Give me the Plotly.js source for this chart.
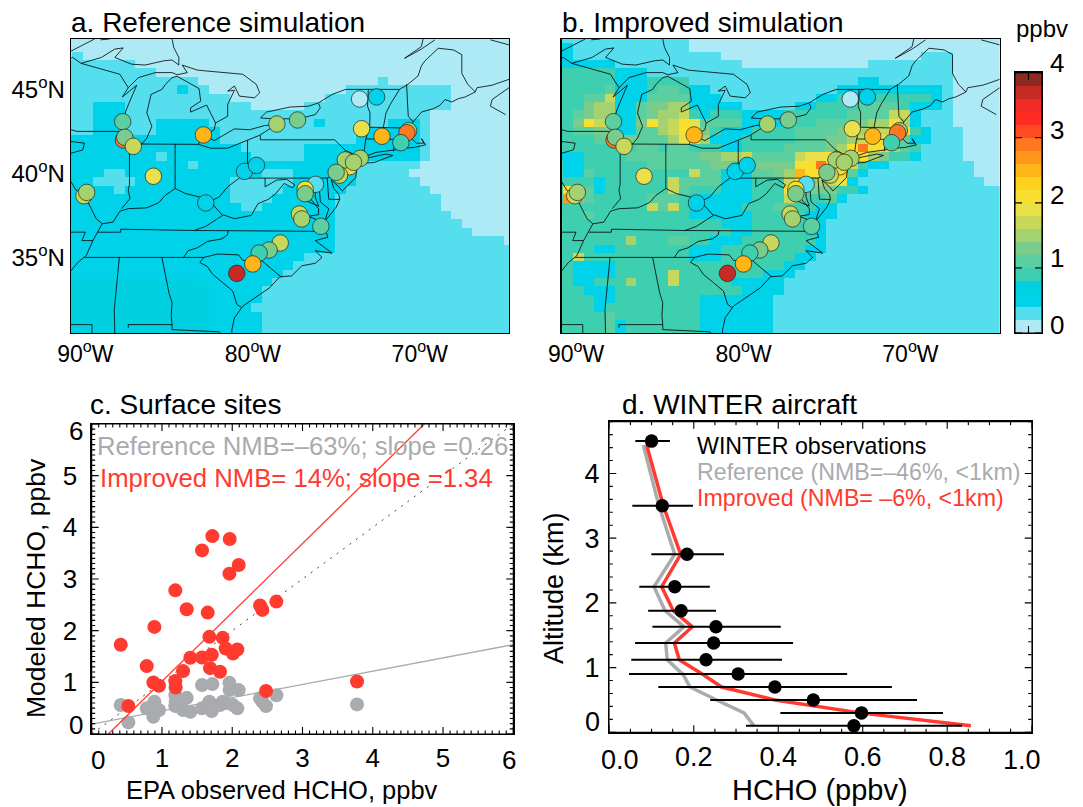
<!DOCTYPE html>
<html><head><meta charset="utf-8">
<script src="https://cdn.plot.ly/plotly-3.0.1.min.js"></script>
<style>html,body{margin:0;padding:0;background:#fff}</style></head>
<body><div id="chart" style="width:1083px;height:807px"></div>
<script>
/* ---- grid (cell centres, degrees) ---- */
const gridLon = [-91.25,-90.625,-90,-89.375,-88.75,-88.125,-87.5,-86.875,-86.25,-85.625,-85,-84.375,-83.75,-83.125,-82.5,-81.875,-81.25,-80.625,-80,-79.375,-78.75,-78.125,-77.5,-76.875,-76.25,-75.625,-75,-74.375,-73.75,-73.125,-72.5,-71.875,-71.25,-70.625,-70,-69.375,-68.75,-68.125,-67.5,-66.875,-66.25,-65.625,-65];
const gridLat = [48,47.5,47,46.5,46,45.5,45,44.5,44,43.5,43,42.5,42,41.5,41,40.5,40,39.5,39,38.5,38,37.5,37,36.5,36,35.5,35,34.5,34,33.5,33,32.5,32,31.5,31,30.5];
/* bin index of each cell (0-9,a-j; one bin = 0.2 ppbv), north to south, spaces only group digits */
const refBins = [
"0000000000000 000000000000000000000000000000",
"0000000000000 000000000000000000000000000000",
"01 00000000000000000000000000000000000000000",
"1111111 000000000000000000000000000000000000",
"111111111 0000000000000000000000000000000000",
"1111111111111 00000000000000000 1 000000000000",
"11111111111211 0000000000000 1111111111 000000",
"1111111111111111 000000000 111111111111 000000",
"111 222 111111111111 00000 11111111111111 000000",
"111 222 11111111111111111111111111111 00000000",
"111 222 111 22222 1111111111 2 111111 222 1 00000000",
"111 222 111 222222 11111111111111 22222 1 00000000",
"222222222222222 1111111111111 222222 1 00000000",
"22222222222222222 111111 22222222222 1 00000000",
"222222222 1 22222222 11111 22222222222 1 00000000",
"222222222222 1 222222222222222 111111 000000000",
"2222 11 2222222222222 111 222222 11111 0000000000",
"222 1111 222222222 111111 222222 111111 000000000",
"22222 1 2222222222 11111 222222 11111111 00000000",
"2222222222222222 1111 222222 1111111111 0000000",
"22222222222222222 11 2222222 1111111111 0000000",
"22222222222222222222222222 11111111111 000000",
"22222222222222222222222222 111111111111 00000",
"22222222222222222222222222 1111111111111 0000",
"22222222222222222222222222 1111111111111111 0",
"22222222222222222222222222 11111111111111111",
"22222222222222222222222 11111111111111111111",
"2222222222222222222222 111111111111111111111",
"222222222222222222222 1111111111111111111111",
"2 333333333333 2222222 11111111111111111111111",
"2 3333333333333 22222 111111111111111111111111",
"2 3333333333333 22222 111111111111111111111111",
"2 3333333333333 2222 1111111111111111111111111",
"2 3333333333333 22222 111111111111111111111111",
"2 3333333333333 22222 111111111111111111111111",
"2 3333333333333 22222 111111111111111111111111"];
const impBins = [
"1111111111111 000000000000000000000000000000",
"2211111111111 000000000000000000000000000000",
"22 11111111111111 0000000000000000000 111 00000",
"222222 111111111111 000000000000 11111111 00000",
"444444 222 1111 1111111111111111111111111 00000",
"444444 222 4444 1111111111111111 22 1111111 00000",
"444445 222 4554 22 111111111111 2222222222 1 00000",
"444558 222 5555 2 22 111111111 22 444444444 2 1 00000",
"444677 22 5 6677 22 222 11111 22 444455554 222 1 00000",
"44 5677 22 5 6778 4 2 444 2222 444 4445555 88 2 111 00000",
"446a89 22 6 a 7 8 a 9 5 555 2222 444 555 5677 a 7 2 111 00000",
"445566 22 55 78 aa 6 4 222 444455 5566 7 88 9 a 4 2111 0000",
"444456 66 555 79 a 7 222 4444455 5 6 67 8 9 a 8 5 2 2111 0000",
"444444 4455 455 44 4 22 444 4555 5 6 7 a e aa 7 5 4 1111 0000",
"222 4444555 5555 66 778 5555 8 99 aa g a76 44 2 1111 0000",
"422 444 444 5555 5566 556666 aa e aa 8 4 22 11111111 000",
"422 544 444 4444 8 55 2 22 5567 c a aa b 5 2 1111111111 000",
"44442 4 44444 8 5 555 222 444 8 a 6 7 8 9 2 111111111111 00",
"4a8 5 2 44 4444 8 5 444 222 444 a 9 6 66 4 4 2 1111111111111 0",
"4d6 5 44 444 555 44 2222 244 4 8 5 445 2 111111111111111",
"444444 444 8 5 8 4 222 22 444 55 44 2 2 1111111111111111",
"444 54 44444444 2 22 222 44444 22 2 1111111111111111",
"544444 4444444444 222 44444 22 11111111111111111",
"44444444444444 44422 44444 22 11111111111111111",
"4444444 7 444 55 44 222 444 444 42 11111111111111111",
"444422 4444444 222 4444 4444 22 11111111111111111",
"448 4444 44444 4 22 2 44 444 44 22 111111111111111111",
"44 2222 4444 444 44 44 444 44 22 1111111111111111111",
"44 2222 44444 8 4 4444 444 22 2 11111111111111111111",
"4422 44 4 7 444 8 4 4444 22 22 2 111111111111111111111",
"444222 44444444 4444 22 22 111111111111111111111",
"444422 44444444 2222222 1111111111111111111111",
"4444 2 4 44444444 2222222 1111111111111111111111",
"444445 44444444 2222222 1111111111111111111111",
"444445 2 4444444 2222222 1111111111111111111111",
"444445 2 4444444 2222222 1111111111111111111111"];
const binColors = ["#AEE9F6","#55DEEE","#00D2EA","#00D0E0","#3ECFB0","#5CCFA0","#7ACC8C","#A4D26E","#C8D85A","#E9E04A","#F9E030","#FDD21F","#FFB418","#FF981A","#FF7820","#FF4A24","#FF2C22","#F22A25","#C62A25","#8C2A22"];
/* ---- observation sites ---- */
const siteLon = [-73.87,-72.86,-87.93,-78.78,-77.55,-73.75,-72.54,-70.96,-71.06,-71.42,-83.14,-87.89,-87.81,-87.30,-86.11,-80.70,-79.99,-74.47,-74.72,-73.83,-74.23,-75.06,-75.26,-76.49,-77.10,-77.10,-83.00,-90.23,-90.07,-77.44,-77.30,-76.17,-78.58,-79.24,-79.83,-80.21,-81.16];
const siteLat = [44.43,44.55,43.08,42.94,43.18,42.66,42.21,42.54,42.42,41.83,42.29,41.99,42.15,41.61,39.83,40.12,40.48,40.40,40.80,40.90,40.66,39.90,40.06,39.35,39.05,38.79,38.24,38.67,38.87,37.58,37.29,36.85,35.86,35.44,35.26,34.61,34.05];
const siteVal = [0.1,0.5,1.1,1.5,1.3,1.9,2.5,1.5,2.9,0.9,2.5,2.9,1.3,1.7,1.9,0.5,0.5,2.1,1.5,1.5,1.5,1.7,1.3,0.3,2.1,1.3,0.5,1.7,1.5,1.7,1.5,1.1,1.7,1.3,0.9,2.5,3.7];
/* ---- map outlines: lon,lat,lon,lat ... ---- */
const outlines = [
[-91,47.28,-90,47.8,-89.6,48],
[-91,46.85,-90.9,46.9,-90.4,46.55,-89.2,46.9,-88.4,47.4,-87.9,47.47,-88.4,46.9,-87.4,46.5,-86.6,46.45,-85.5,46.7,-85,46.75,-84.6,46.45,-84.6,46.9,-84.9,47.5,-85,48],
[-89.25,47.95,-88.7,48],
[-90.4,46.55,-88.1,45.9,-87.6,45.1,-87.95,44.55,-87.1,45.25,-87.35,44.6,-87.55,44.2,-87.75,43.7,-87.9,43,-87.8,42.5,-87.55,41.75,-87.3,41.62,-86.8,41.75,-86.5,42.1,-86.2,42.8,-86.5,43.6,-86.25,44.7,-85.6,45,-85.4,45.3,-85,45.7,-84.7,45.78,-83.4,45.05,-83.3,44.3,-83.9,43.9,-83.9,43.65,-82.95,44.07,-82.42,43,-82.5,42.6,-83.1,42.25,-83.45,41.73,-82.7,41.5,-81.7,41.5,-80.5,41.97,-79.8,42.27,-78.9,42.85],
[-87.6,45.1,-87,45.7,-86,46,-85,46,-84.7,45.87,-84.1,46,-84.4,46.45,-83.5,46.15,-83,46.1,-81.7,46,-80.8,45.9,-80,45.3,-79.8,44.8,-80.1,44.5,-81,44.6,-81.3,45.2,-81.7,44.9,-81.3,44.95,-81.7,44.1,-81.7,43.4,-82.42,43],
[-83.1,42.25,-82.5,41.95,-81.3,42.65,-80.4,42.6,-79.5,42.85,-78.9,42.9,-79.05,43.25,-79.75,43.3,-79.4,43.65,-78,43.95,-76.9,44,-76.3,44.2,-75.5,44.7,-74.7,45],
[-79.05,43.25,-77.5,43.25,-76.5,43.5,-76.2,43.9,-76.3,44.15],
[-71.2,46.85,-70.2,47.4,-69.4,47.95],[-71.2,46.85,-70.2,47.55,-70.1,48],
[-74.7,45,-71.5,45,-71,45.3,-70.4,45.8,-70.2,46.4,-69.99,46.7,-69.2,47.45,-68.3,47.35,-67.8,47.07,-67.8,45.95,-67.45,45.3,-67,44.85,-66.9,45.1,-66,45.25,-65,45.6],
[-65,45.1,-66,44.4,-66.1,44,-65.2,43.5],[-66.1,47.95,-65,47.65],
[-67,44.85,-67.6,44.55,-68,44.45,-68.4,44.25,-68.8,44.4,-69.1,44.05,-69.5,43.85,-70.2,43.65,-70.7,43.05,-70.8,42.6,-71,42.3,-70.65,41.95,-70.5,41.8,-70.05,41.8,-70.2,42.07,-69.95,41.7,-70.6,41.55,-71.2,41.5,-71.4,41.7,-71.4,41.45,-72.9,41.25,-73.7,40.95,-74,40.7],
[-74,40.6,-73.75,40.85,-72.3,41.15,-71.9,41.07,-73,40.65,-74,40.58],
[-74,40.47,-74.1,39.75,-74.9,38.95,-75.1,39.2,-75.55,39.6,-75.4,39.1,-75.1,38.75,-75.05,38.45,-75.25,38,-75.95,37.12,-75.7,37.9,-76.2,38.3,-76.25,39,-76.05,39.5,-76.5,39.2,-76.5,38.6,-76.3,38.05,-77,38.35,-77.05,38.8,-76.3,37.9,-76.3,37.55,-76.9,37.45,-76.3,37.2,-76.4,37,-76,36.93,-75.75,36.2,-76.5,36,-76,35.6,-75.5,35.25,-76.5,35.4,-76.1,35,-76.5,34.65,-77.3,34.5,-77.9,33.9,-78.6,33.85,-79.2,33.2,-79.9,32.7,-80.8,32.1,-81.3,31.4,-81.45,30.7,-81.45,30.4],
[-91,42.6,-90.64,42.5,-87.8,42.5],[-91,41.9,-90.2,41.8,-90.3,41.4,-91,41.2],
[-87.53,41.7,-87.53,39.35,-87.6,39,-87.5,38.5,-88,37.9],
[-87.2,41.75,-84.8,41.75,-83.45,41.73],[-84.82,41.75,-84.82,39.1],[-80.52,41.98,-80.52,39.72],
[-80.52,40.63,-80.65,40,-81.7,39.2,-82.2,38.6,-82.6,38.4,-83.6,38.65,-84.2,38.8,-84.82,39.1,-85.4,38.7,-85.8,38.25,-86.5,37.95,-87.6,37.9,-88.1,37.75,-88.5,37.1,-89.15,37],
[-91,39.5,-90.7,39,-90.2,38.7,-89.5,37.3,-89.15,37,-89.4,36.5,-89.7,36,-90.1,35.1,-90.6,34.7,-91,34.2],
[-91,36.5,-90.15,36.5,-90.35,36,-89.7,36],
[-89.4,36.5,-88.05,36.5,-88.05,36.68,-86,36.63,-83.68,36.6,-81.68,36.59,-75.9,36.55],
[-83.68,36.6,-83,36.85,-82,37.5,-82.6,38.17,-82.6,38.4],
[-81.97,37.54,-81.3,37.3,-80.3,37.5,-79.9,38.2,-79.3,38.45,-78.87,38.77,-78.35,39.4,-77.83,39.13,-77.72,39.32,-78.2,39.65,-78.8,39.6,-79.48,39.2,-79.48,39.72],
[-80.52,39.72,-75.79,39.72],[-79.76,42.27,-79.76,42,-75.35,42,-74.7,41.36,-73.9,41],
[-74.7,41.36,-75.13,40.97,-74.72,40.15,-75.55,39.6],[-75.5,39.83,-75.79,39.72,-75.7,38.46,-75.05,38.45],
[-73.65,41,-73.5,42.05,-73.27,42.75,-73.25,43.6,-73.4,44,-73.35,45],
[-73.27,42.75,-71.3,42.7,-70.8,42.87],[-73.5,42.05,-71.38,42.02,-71.38,41.9,-71.12,41.5],[-71.8,42.02,-71.85,41.32],
[-72.46,42.73,-72.3,43.6,-72.05,44.1,-71.5,45],[-70.7,43.07,-70.98,43.4,-71.08,45.3],
[-81.68,36.59,-81.7,36.35,-82.05,36.1,-82.9,35.95,-83.5,35.57,-84.05,35.4,-84.32,34.99],
[-90.2,35,-84.32,34.99,-83.11,35,-82.3,35.2,-81.05,35.15,-80.8,34.82,-79.67,34.8,-78.55,33.86],
[-83.11,35,-83.35,34.7,-82.9,34.45,-82.6,34,-82,33.5,-81.4,33,-81.15,32.2,-80.9,32.03],
[-88.13,35,-88.43,31.9,-88.4,30.5],[-85.6,34.98,-85.18,32.87,-85,32.3,-85.05,31.55,-85,31,-85,30.7,-82.2,30.57,-82.05,30.36],
[-87.6,30.8,-87.6,31,-85,31],[-91,31,-89.75,31,-89.75,30.5]
];
/* ---- panel c ---- */
const obsHCHO = [0.413,0.522,0.783,0.892,0.878,0.958,1.19,1.19,1.195,1.30,1.352,1.404,1.57,1.57,1.651,1.675,1.717,1.708,1.684,1.826,1.864,1.907,1.96,1.964,2.01,2.073,2.092,2.396,2.429,2.628,2.481,3.776];
const impHCHO = [1.726,0.541,1.314,2.073,0.998,0.934,2.78,1.024,0.90,1.217,2.415,1.475,3.554,1.481,2.35,1.88,3.83,1.533,1.275,1.204,1.861,1.655,3.104,3.773,1.558,1.636,3.271,2.486,2.402,2.563,0.831,1.017];
const refHCHO = [0.56,0.225,0.496,0.625,0.335,0.464,0.753,0.54,0.625,0.464,0.70,0.43,0.947,0.496,0.56,0.625,0.966,0.444,0.56,0.56,0.625,0.60,0.99,0.85,0.56,0.496,0.85,0.69,0.625,0.75,0.54,0.573];
const fitX = [0,6], fitRefY = [0.19,1.73];
const fitImpX = [0.237,4.734], fitImpY = [0,6];
/* ---- panel d ---- */
const altObs = [4.5,3.5,2.75,2.25,1.88,1.63,1.38,1.12,0.9,0.7,0.5,0.3,0.1];
const hchoObs = [0.100,0.1255,0.184,0.155,0.170,0.2525,0.247,0.229,0.305,0.392,0.483,0.597,0.579];
const hchoLow = [0.0616,0.0545,0.0995,0.071,0.092,0.102,0.061,0.052,0.0466,0.116,0.239,0.405,0.3236];
const hchoHigh = [0.1436,0.198,0.2715,0.238,0.2525,0.406,0.435,0.409,0.563,0.669,0.7285,0.79,0.835];
const altMod = [4.44,3.5,2.75,2.25,1.88,1.63,1.38,1.12,0.89,0.70,0.5,0.3,0.1];
const hchoImp = [0.0884,0.128,0.169,0.124,0.1515,0.1965,0.154,0.1657,0.2226,0.266,0.392,0.5935,0.856];
const hchoRef = [0.0805,0.1176,0.155,0.1058,0.132,0.1768,0.1334,0.1373,0.175,0.191,0.254,0.319,0.3425];
const cbVals = [0.1,0.3,0.5,0.7,0.9,1.1,1.3,1.5,1.7,1.9,2.1,2.3,2.5,2.7,2.9,3.1,3.3,3.5,3.7,3.9];

const FONT = "Liberation Sans, Arial, sans-serif";
const GRAY = "#A9ABAE", RED = "#FF3A2E";
const W = 1083, H = 807;
const dx = (a,b)=>[a/W,b/W], dy = (t,b)=>[1-b/H,1-t/H];
const digits = "0123456789abcdefghij";
const toZ = rows => rows.map(r => {
  const s = r.replace(/ /g,"").padEnd(gridLon.length, r.trim().slice(-1));
  return Array.from(s.slice(0,gridLon.length)).map(c => digits.indexOf(c)*0.2+0.1);
});
const cs = [];
binColors.forEach((c,i)=>{cs.push([i/20,c]);cs.push([(i+1)/20,c]);});
const siteColors = siteVal.map(v=>binColors[Math.min(19,Math.floor(v/0.2))]);
const ox=[],oy=[];
outlines.forEach(l=>{for(let i=0;i<l.length;i+=2){ox.push(l[i]);oy.push(l[i+1]);}ox.push(null);oy.push(null);});

const mapTraces = (xa,ya,bins)=>[
 {type:"heatmap",x:gridLon,y:gridLat,z:toZ(bins),zmin:0,zmax:4,colorscale:cs,showscale:false,xaxis:xa,yaxis:ya,hoverinfo:"skip"},
 {type:"scatter",mode:"lines",x:ox,y:oy,line:{color:"#000",width:0.8},xaxis:xa,yaxis:ya,hoverinfo:"skip",connectgaps:false},
 {type:"scatter",mode:"markers",x:siteLon,y:siteLat,marker:{size:16.5,color:siteColors,line:{color:"#222",width:0.7}},xaxis:xa,yaxis:ya}
];
/* frame and tick marks of a lower panel, drawn in its own axes (lengths given in pixels) */
const frameTrace = (xa,ya,xr,yr,pw,ph,xMaj,xMin,yMaj,yMin)=>{
  const fx=[xr[0],xr[1],xr[1],xr[0],xr[0],null], fy=[yr[0],yr[0],yr[1],yr[1],yr[0],null];
  const sx=(xr[1]-xr[0])/pw, sy=(yr[1]-yr[0])/ph;
  const isMaj=(v,m)=>Math.abs(v/m-Math.round(v/m))<1e-6;
  for(let i=Math.round(xr[0]/xMin);i<=Math.round(xr[1]/xMin);i++){const v=i*xMin,len=(isMaj(v,xMaj)?7:3.5)*sy;
    fx.push(v,v,null,v,v,null);fy.push(yr[0],yr[0]+len,null,yr[1],yr[1]-len,null);}
  for(let i=Math.round(yr[0]/yMin);i<=Math.round(yr[1]/yMin);i++){const v=i*yMin,len=(isMaj(v,yMaj)?7:3.5)*sx;
    fx.push(xr[0],xr[0]+len,null,xr[1],xr[1]-len,null);fy.push(v,v,null,v,v,null);}
  return {type:"scatter",mode:"lines",x:fx,y:fy,line:{color:"#000",width:1.1,simplify:false},cliponaxis:false,xaxis:xa,yaxis:ya,hoverinfo:"skip"};
};
const clearCell = (xa,ya,xs,ys)=>({type:"heatmap",x:xs,y:ys,z:[[0,0],[0,0]],zmin:0,zmax:1,opacity:0,colorscale:[[0,"rgba(0,0,0,0)"],[1,"rgba(0,0,0,0)"]],showscale:false,xaxis:xa,yaxis:ya,hoverinfo:"skip"});
const traces = [
 ...mapTraces("x","y",refBins),
 ...mapTraces("x2","y2",impBins),
 {type:"heatmap",x:[0],y:cbVals,z:cbVals.map(v=>[v]),zmin:0,zmax:4,colorscale:cs,showscale:false,xaxis:"x3",yaxis:"y3",hoverinfo:"skip"},
 frameTrace("x3","y3",[-0.5,0.5],[0,4],27,260.3,1,1,1,1),
 clearCell("x4","y4",[0,6],[0,6]),
 {type:"scatter",mode:"lines",x:[0,6],y:[0,6],line:{color:"#444",width:1,dash:"2px,6px"},xaxis:"x4",yaxis:"y4"},
 {type:"scatter",mode:"markers",x:obsHCHO,y:refHCHO,marker:{size:14,color:GRAY},xaxis:"x4",yaxis:"y4"},
 {type:"scatter",mode:"lines",x:fitX,y:fitRefY,line:{color:GRAY,width:1.3},xaxis:"x4",yaxis:"y4"},
 {type:"scatter",mode:"lines",x:fitImpX,y:fitImpY,line:{color:RED,width:1.3},xaxis:"x4",yaxis:"y4"},
 {type:"scatter",mode:"markers",x:obsHCHO,y:impHCHO,marker:{size:14,color:RED},xaxis:"x4",yaxis:"y4"},
 frameTrace("x4","y4",[0,6],[0,6],421.6,310,1,0.1,1,0.1),
 clearCell("x5","y5",[0,1],[0,4.8]),
 {type:"scatter",mode:"lines",x:hchoRef,y:altMod,line:{color:GRAY,width:3.5},xaxis:"x5",yaxis:"y5"},
 {type:"scatter",mode:"lines",x:hchoImp,y:altMod,line:{color:RED,width:3.5},xaxis:"x5",yaxis:"y5"},
 {type:"scatter",mode:"markers",x:hchoObs,y:altObs,marker:{size:13.5,color:"#000"},
  error_x:{type:"data",symmetric:false,array:hchoHigh.map((h,i)=>h-hchoObs[i]),arrayminus:hchoObs.map((o,i)=>o-hchoLow[i]),color:"#000",thickness:2,width:0},xaxis:"x5",yaxis:"y5"},
 frameTrace("x5","y5",[0,1],[0,4.8],422.4,310.6,0.2,0.05,1,0.2)
];
const box = {showline:true,linecolor:"#000",linewidth:1.3,mirror:true,showgrid:false,zeroline:false,tickfont:{family:FONT,size:24,color:"#000"}};
const mapX = {...box,range:[-91,-65],tickmode:"array",tickvals:[-90.15,-80.2,-70.3],ticktext:["90<sup>o</sup>W","80<sup>o</sup>W","70<sup>o</sup>W"],ticks:"",ticklabelstandoff:0,tickfont:{family:FONT,size:23,color:"#000"}};
const mapY = {...box,range:[30.5,48],tickmode:"array",tickvals:[35,40,45],ticktext:["35<sup>o</sup>N","40<sup>o</sup>N","45<sup>o</sup>N"],ticks:""};
const labelled = (vals,size,fmt,off)=>({tickmode:"array",tickvals:vals,ticktext:vals.map(v=>fmt?v.toFixed(fmt):String(v)),ticks:"",ticklabelstandoff:off,tickfont:{family:FONT,size,color:"#000"}});
const annos = [];
const T=(text,x,y,size,color,anchor,rot)=>annos.push({text,xref:"paper",yref:"paper",x:x/W,y:1-y/H,xanchor:anchor||"left",yanchor:"middle",showarrow:false,textangle:rot||0,font:{family:FONT,size,color:color||"#000"}});
T("a. Reference simulation",69,22,28);
T("b. Improved simulation",560,22,28);
T("ppbv",1014,28,24);
[["4",63],["3",130],["2",195],["1",258],["0",325]].forEach(a=>T(a[0],1048,a[1],26));
T("c. Surface sites",88,405,28);
T("d. WINTER aircraft",620,405,28);
T("Reference NMB=–63%; slope =0.26",95,446,25.7,GRAY);
T("Improved NMB= 14%; slope =1.34",98,478,25.7,RED);
T("WINTER observations",695,446,23.2);
T("Reference (NMB=–46%, &lt;1km)",695,472,23.2,GRAY);
T("Improved (NMB= –6%, &lt;1km)",695,498,23.2,RED);
T("EPA observed HCHO, ppbv",282,790,25.5,"#000","center");
T("HCHO (ppbv)",820,790,29,"#000","center");
T("Modeled HCHO, ppbv",36,588,26.5,"#000","center",-90);
T("Altitude (km)",554,588,27,"#000","center",-90);
T("6",85,431,26,"#000","right");T("0",85,725,26,"#000","right");
T("0",98,760,26,"#000","center");T("6",509,760,26,"#000","center");
T("0",602,722,27,"#000","right");
T("0.0",620,760,27,"#000","center");T("1.0",1022,760,27,"#000","center");
const layout = {
 width:W,height:H,margin:{l:0,r:0,t:0,b:0},paper_bgcolor:"#fff",plot_bgcolor:"#fff",showlegend:false,annotations:annos,
 xaxis:{...mapX,domain:dx(71,509),anchor:"y"},
 yaxis:{...mapY,domain:dy(39,333),anchor:"x"},
 xaxis2:{...mapX,domain:dx(561.7,999.7),anchor:"y2"},
 yaxis2:{...mapY,domain:dy(39,333),anchor:"x2",showticklabels:false},
 xaxis3:{...box,domain:dx(1015,1042),anchor:"y3",range:[-0.5,0.5],showticklabels:false,ticks:""},
 yaxis3:{...box,domain:dy(72.7,333),anchor:"x3",range:[0,4],showticklabels:false,ticks:""},
 xaxis4:{...box,...labelled([1,2,3,4,5],26,0,0),domain:dx(91.7,513.3),anchor:"y4",range:[0,6]},
 yaxis4:{...box,...labelled([1,2,3,4,5],26,0,8),domain:dy(424,734),anchor:"x4",range:[0,6]},
 xaxis5:{...box,...labelled([0.2,0.4,0.6,0.8],27,1,0),domain:dx(609.3,1031.7),anchor:"y5",range:[0,1]},
 yaxis5:{...box,...labelled([1,2,3,4],27,0,3),domain:dy(421.7,732.3),anchor:"x5",range:[0,4.8]}
};
Plotly.newPlot("chart",traces,layout,{displayModeBar:false,staticPlot:true});
</script></body></html>
